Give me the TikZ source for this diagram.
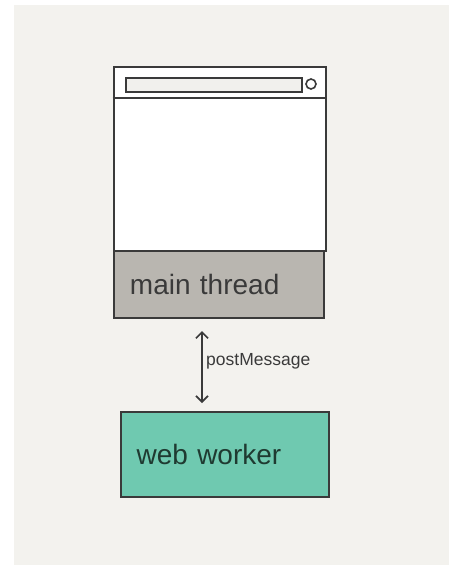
\documentclass[tikz,border=0pt]{standalone}
\usepackage{xcolor}
\usepackage{fontspec}
\setmainfont{Liberation Sans}
\usepackage{tikz}
\usetikzlibrary{arrows.meta, positioning, calc}
\definecolor{paper}{HTML}{F3F2EE}
\definecolor{ink}{HTML}{3A3A3A}
\definecolor{threadgrey}{HTML}{B9B6B0}
\definecolor{workergreen}{HTML}{6FC9B0}
\definecolor{workerink}{HTML}{1F3A31}
\definecolor{barfill}{HTML}{F1F0ED}

\begin{document}
\begin{tikzpicture}[x=1pt, y=-1pt,
  panel/.style={draw=ink, line width=2.2pt, rectangle, anchor=north west, inner sep=0pt},
  bigtext/.style={font=\fontsize{28}{30}\selectfont, text=ink}]
  % Canvas
  \useasboundingbox (0,0) rectangle (449,565);
  \fill[white] (0,0) rectangle (449,565);
  \fill[paper] (14,5) rectangle (449,565);
  % Browser window
  \node[panel, fill=white, minimum width=212.3pt, minimum height=184.3pt] (window) at (112.7,65.7) {};
  \draw[ink, line width=2.2pt] ([yshift=-32.3pt]window.north west) -- ([yshift=-32.3pt]window.north east);
  \node[panel, fill=barfill, line width=1.8pt, minimum width=176pt, minimum height=14.3pt] (addr) at (125,76.7) {};
  \node[circle, draw=ink, line width=1.6pt, minimum size=10pt, inner sep=0pt] (dot) at (311,84) {};
  % Threads
  \node[panel, fill=threadgrey, minimum width=210.3pt, minimum height=67pt,
        text width=178pt, inner xsep=16pt, align=left, bigtext] (mainthread) at (112.7,250) {main thread};
  \node[panel, fill=workergreen, minimum width=208pt, minimum height=85pt,
        text width=177pt, inner xsep=15pt, align=left, bigtext, text=workerink] (worker) at (120,411) {web worker};
  % Messaging
  \node[anchor=base west, inner xsep=4pt, font=\fontsize{17.5}{19}\selectfont, text=ink] (msg) at (202,365) {postMessage};
  \draw[{Straight Barb[length=6pt,width=12pt]}-{Straight Barb[length=6pt,width=12pt]}, ink, line width=1.6pt,
        shorten <=12pt, shorten >=8pt] (mainthread.south -| msg.west) -- (worker.north -| msg.west);
\end{tikzpicture}
\end{document}
